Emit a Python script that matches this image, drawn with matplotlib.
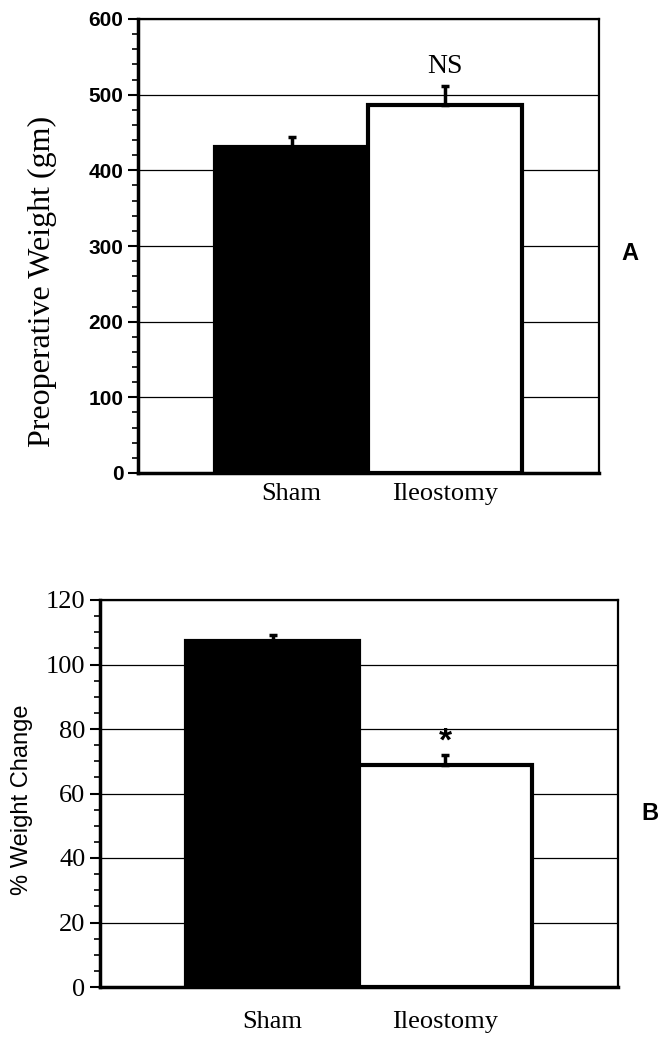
import matplotlib
matplotlib.use("Agg")
import matplotlib.pyplot as plt
from matplotlib.ticker import MultipleLocator

# data
groups = ["Sham", "Ileostomy"]
preop_weight = [431, 486]      # gm
preop_sem = [13, 26]
weight_change = [107.3, 68.8]  # %
change_sem = [1.8, 3.0]

SERIF = "Liberation Serif"
SANS = "Liberation Sans"

fig = plt.figure(figsize=(6.58, 10.39), dpi=100)


def draw_panel(ax, vals, errs, ymax, major, minor, tick_font, tick_weight, tick_size, xpad):
    x = list(range(len(vals)))
    ax.set_axisbelow(True)
    ax.yaxis.grid(True, color="black", linewidth=0.9)
    ax.bar(x, vals, width=1.0, color=["black", "white"], edgecolor="black",
           linewidth=3, zorder=2)
    ax.errorbar(x, vals, yerr=[[0] * len(errs), errs], fmt="none", ecolor="black",
                elinewidth=2.5, capsize=3, capthick=2.5, zorder=3)
    ax.set_xlim(-1, 2)
    ax.set_ylim(0, ymax)
    ax.yaxis.set_major_locator(MultipleLocator(major))
    ax.yaxis.set_minor_locator(MultipleLocator(minor))
    ax.tick_params(axis="y", which="major", direction="out", length=7, width=1.5)
    ax.tick_params(axis="y", which="minor", direction="out", length=4, width=1.2)
    ax.tick_params(axis="x", length=0, pad=xpad)
    ax.set_xticks(x)
    ax.set_xticklabels(groups, fontfamily=SERIF, fontsize=19)
    for lab in ax.get_yticklabels():
        lab.set_fontfamily(tick_font)
        lab.set_fontweight(tick_weight)
        lab.set_fontsize(tick_size)
    for side in ["left", "bottom"]:
        ax.spines[side].set_linewidth(2.5)
    for side in ["top", "right"]:
        ax.spines[side].set_linewidth(1.6)
    return x


#region Panel A
axA = fig.add_axes([138 / 658, 1 - 473 / 1039, 461 / 658, 454 / 1039])
xa = draw_panel(axA, preop_weight, preop_sem, 600, 100, 20, SANS, "bold", 15, 7)
axA.text(xa[1], preop_weight[1] + preop_sem[1] + 9, "NS", ha="center", va="bottom",
         fontfamily=SERIF, fontsize=20)
fig.text(42 / 658, 1 - 281 / 1039, "Preoperative Weight (gm)", rotation=90,
         ha="center", va="center", fontfamily=SERIF, fontsize=23)
fig.text(630 / 658, 1 - 253 / 1039, "A", ha="center", va="center",
         fontfamily=SANS, fontweight="bold", fontsize=17)
#endregion

#region Panel B
axB = fig.add_axes([100 / 658, 1 - 987 / 1039, 518 / 658, 387 / 1039])
xb = draw_panel(axB, weight_change, change_sem, 120, 20, 5, SERIF, "normal", 19, 17)
axB.text(xb[1], weight_change[1] + change_sem[1] + 4, "*", ha="center", va="center",
         fontfamily=SANS, fontweight="bold", fontsize=24)
fig.text(22 / 658, 1 - 800 / 1039, "% Weight Change", rotation=90,
         ha="center", va="center", fontfamily=SANS, fontsize=17)
fig.text(650 / 658, 1 - 813 / 1039, "B", ha="center", va="center",
         fontfamily=SANS, fontweight="bold", fontsize=17)
#endregion

fig.savefig("out.png", dpi=100)
